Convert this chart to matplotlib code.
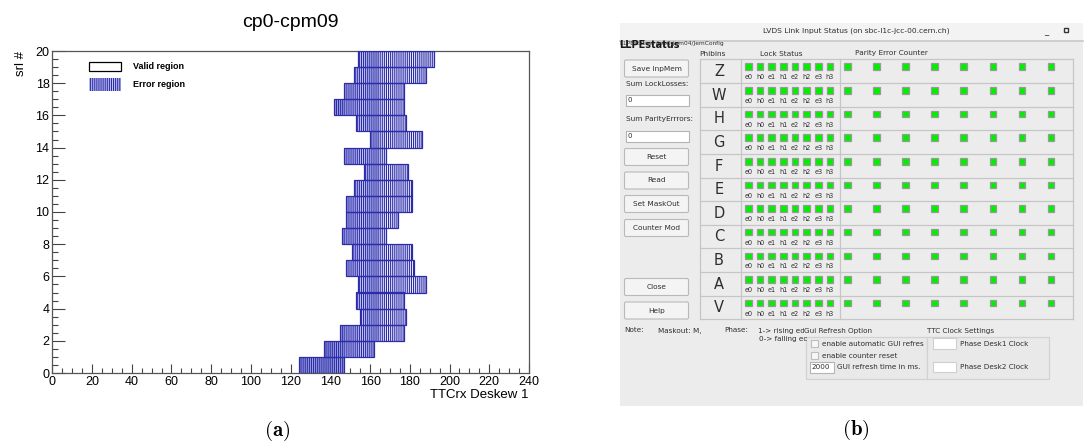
import matplotlib.pyplot as plt
import numpy as np
from matplotlib.patches import Rectangle, FancyBboxPatch
from matplotlib.ticker import MultipleLocator

plt.rcParams["hatch.linewidth"] = 0.8
plt.rcParams["mathtext.fontset"] = "cm"

# %%
# Panel (a): error region of the TTCrx deskew scan, one row per srl #
srl = np.arange(20)
err_start = np.array([124, 137, 145, 155, 153, 154, 148, 151, 146, 148,
                      148, 152, 157, 147, 160, 153, 142, 147, 152, 154])
err_end = np.array([147, 162, 177, 178, 177, 188, 182, 181, 168, 174,
                    181, 181, 179, 168, 186, 178, 177, 177, 188, 192])
solid_edge = 147     # where the denser (overlapping) shading stops
faint_edge = 164.5

# %%
# Panel (b): LVDS link input status window
phibins = ["Z", "W", "H", "G", "F", "E", "D", "C", "B", "A", "V"]
lock_labels = ["e0", "h0", "e1", "h1", "e2", "h2", "e3", "h3"]
n_parity = 8
buttons = ["Save InpMem", "Reset", "Read", "Set MaskOut", "Counter Mod", "Close", "Help"]
button_top = [60, 148.5, 172, 195.5, 219.5, 278.5, 302]

W, H = 1091, 446
fig = plt.figure(figsize=(W / 100, H / 100), dpi=100)
ov = fig.add_axes([0, 0, 1, 1])
ov.set_xlim(0, W)
ov.set_ylim(H, 0)
ov.axis("off")

blue = "#2c2cab"
ax = fig.add_axes([52.3 / W, 1 - 373 / H, (529 - 52.3) / W, (373 - 51) / H])
ax.barh(srl, err_end - err_start, left=err_start, height=1, align="edge",
        color="#f0f0fa", linewidth=0, zorder=1.5)
ax.barh(srl, np.clip(np.minimum(err_end, solid_edge) - err_start, 0, None), left=err_start,
        height=1, align="edge", color="#9fa2de", linewidth=0, zorder=2)
faint_l = np.maximum(err_start, solid_edge)
ax.barh(srl, np.clip(np.minimum(err_end, faint_edge) - faint_l, 0, None), left=faint_l,
        height=1, align="edge", color="#c6c8ee", linewidth=0, zorder=2)
ax.barh(srl, err_end - err_start, left=err_start, height=1, align="edge",
        facecolor="none", edgecolor=blue, hatch="|" * 8, linewidth=0.9, zorder=3)

ax.set_xlim(0, 240)
ax.set_ylim(0, 20)
ax.xaxis.set_major_locator(MultipleLocator(20))
ax.xaxis.set_minor_locator(MultipleLocator(5))
ax.yaxis.set_major_locator(MultipleLocator(2))
ax.yaxis.set_minor_locator(MultipleLocator(0.5))
ax.tick_params(which="both", direction="in", labelsize=9, width=0.8, color="#444444")
ax.tick_params(axis="y", which="major", length=9.5, pad=2)
ax.tick_params(axis="y", which="minor", length=4.5)
ax.tick_params(axis="x", which="major", length=6.5, pad=2)
ax.tick_params(axis="x", which="minor", length=3.5)
for lab in ax.get_xticklabels() + ax.get_yticklabels():
    lab.set_family("Liberation Sans")
for sp in ax.spines.values():
    sp.set_color("#555555")
    sp.set_linewidth(0.9)
ax.set_xlabel("TTCrx Deskew 1", loc="right", family="Liberation Sans", fontsize=9.5, labelpad=1)
ax.set_ylabel("srl #", loc="top", family="Liberation Sans", fontsize=9.5, labelpad=6)

# legend, ROOT style (placed in figure pixels)
ax.add_patch(Rectangle((89, 62), 31.7, 8.7, transform=ov.transData, facecolor="white",
                       edgecolor="black", linewidth=0.9, clip_on=False, zorder=5))
ax.add_patch(Rectangle((89, 78), 31.7, 13, transform=ov.transData, facecolor="#c6c8ee",
                       edgecolor=blue, hatch="|" * 8, linewidth=0, clip_on=False, zorder=5))
for ty, txt in ((66.5, "Valid region"), (84.5, "Error region")):
    ax.text(133, ty, txt, transform=ov.transData, fontsize=6.5, fontweight="bold",
            family="Liberation Sans", va="center", clip_on=False, zorder=10)
ov.text(290.7, 22.7, "cp0-cpm09", fontsize=14, family="Liberation Sans", ha="center", va="center")
ov.text(277, 431, r"$\mathbf{(a)}$", fontsize=15, ha="center", va="center")
ov.text(856, 430, r"$\mathbf{(b)}$", fontsize=15, ha="center", va="center")

# %%
# GUI screenshot, drawn in pixel coordinates
gui = dict(family="DejaVu Sans", color="#2e2e2e")
ov.add_patch(Rectangle((619.5, 23), 463, 383, facecolor="#ececec", edgecolor="none"))
ov.add_patch(Rectangle((619.5, 23), 463, 17, facecolor="#f3f3f3", edgecolor="none"))
ov.plot([619.5, 1082.5], [40.5, 40.5], color="#c8c8c8", lw=1.2)
ov.text(856, 30.5, "LVDS Link Input Status (on sbc-l1c-jcc-00.cern.ch)", fontsize=5.4,
        ha="center", va="center", **gui)
ov.text(1046, 32, "_", fontsize=6, ha="center", va="center", color="#333333")
ov.add_patch(Rectangle((1063.5, 28), 4, 4, facecolor="white", edgecolor="#333333", lw=1))

# the window shows its name drawn over the config path
ov.text(620, 44, "LLPEstatus: /jep0-jem04/JemConfig", fontsize=4.2, va="center", **gui)
ov.text(619.5, 45.5, "LLPEstatus", fontsize=7, fontweight="bold", va="center",
        family="DejaVu Sans", color="#1a1a1a")


def button(y0, label, x0=624.5, x1=688.5, h=17):
    ov.add_patch(FancyBboxPatch((x0, y0), x1 - x0, h, boxstyle="round,pad=0,rounding_size=1.5",
                                facecolor="#f4f4f4", edgecolor="#b9b9b9", lw=0.8))
    ov.text((x0 + x1) / 2, y0 + h / 2, label, fontsize=5.3, ha="center", va="center", **gui)


def entry(x0, y0, x1, y1, txt=""):
    ov.add_patch(Rectangle((x0, y0), x1 - x0, y1 - y0, facecolor="white",
                           edgecolor="#b4b4b4", lw=0.8))
    ov.text(x0 + 2, (y0 + y1) / 2, txt, fontsize=5, va="center", **gui)


def led(cx, cy, s=6.6):
    ov.add_patch(Rectangle((cx - s / 2, cy - s / 2), s, s, facecolor="#00f000",
                           edgecolor="#9a9a9a", lw=0.9))


for lab, top in zip(buttons, button_top):
    button(top, lab)
ov.text(625.5, 83.5, "Sum LockLosses:", fontsize=5.3, va="center", **gui)
entry(625.5, 95, 688.5, 106, "0")
ov.text(625.5, 119.5, "Sum ParityErrrors:", fontsize=5.3, va="center", **gui)
entry(625.5, 130.5, 688.5, 141.5, "0")

ov.text(712.5, 53.5, "Phibins", fontsize=5.3, ha="center", va="center", **gui)
ov.text(781, 53.5, "Lock Status", fontsize=5.3, ha="center", va="center", **gui)
ov.text(891.5, 53.5, "Parity Error Counter", fontsize=5.3, ha="center", va="center", **gui)

t_left, t_mid1, t_mid2, t_right = 700, 740.5, 840, 1072.5
t_top, row_h = 59.3, 23.64
grid = dict(color="#c6c6c6", lw=0.9)
for i, name in enumerate(phibins):
    y0 = t_top + i * row_h
    ov.plot([t_left, t_right], [y0, y0], **grid)
    ov.text(719, y0 + 12.2, name, fontsize=10.5, ha="center", va="center", **gui)
    for j, lab in enumerate(lock_labels):
        cx = 748.3 + j * 11.67
        led(cx, y0 + 7.4)
        ov.text(cx, y0 + 18, lab, fontsize=4.7, ha="center", va="center", **gui)
    for k in range(n_parity):
        led(847.3 + k * 29.1, y0 + 7.4)
y_end = t_top + len(phibins) * row_h
ov.plot([t_left, t_right], [y_end, y_end], **grid)
for xv in (t_left, t_mid1, t_mid2, t_right):
    ov.plot([xv, xv], [t_top, y_end], **grid)

# notes and option groups
small = dict(fontsize=5.2, va="center", **gui)
ov.text(624.5, 330.5, "Note:", **small)
ov.text(657.5, 330.5, "Maskout: M,", **small)
ov.text(724, 330.5, "Phase:", **small)
ov.text(757.5, 330.5, "1-> rising edg", **small)
ov.text(759, 338.8, "0-> falling ec", **small)
ov.add_patch(Rectangle((803.5, 326), 50, 9, facecolor="#ececec", edgecolor="none", zorder=3))
ov.text(804.5, 330.5, "Gui Refresh Option", zorder=4, **small)
ov.text(927, 330.5, "TTC Clock Settings", **small)
box = dict(facecolor="#e9e9e9", edgecolor="#d2d2d2", lw=0.9)
ov.add_patch(Rectangle((805.5, 337), 121, 41.5, zorder=2, **box))
ov.add_patch(Rectangle((926.5, 337), 122, 41.5, zorder=2, **box))
for cy, lab in ((343.5, "enable automatic GUI refres"), (355.5, "enable counter reset")):
    ov.add_patch(Rectangle((810.5, cy - 3.7), 7.5, 7.5, facecolor="#f7f7f7",
                           edgecolor="#bdbdbd", lw=0.8, zorder=3))
    ov.text(822, cy, lab, zorder=4, **small)
ov.add_patch(Rectangle((810, 362), 23.5, 10.5, facecolor="white", edgecolor="#b4b4b4",
                       lw=0.8, zorder=3))
ov.text(811.5, 367.3, "2000", zorder=4, **small)
ov.text(837, 367.3, "GUI refresh time in ms.", zorder=4, **small)
for cy, lab in ((343.5, "Phase Desk1 Clock"), (367, "Phase Desk2 Clock")):
    ov.add_patch(Rectangle((932.5, cy - 5.3), 23, 10.6, facecolor="white",
                           edgecolor="#cfcfcf", lw=0.8, zorder=3))
    ov.text(959.5, cy, lab, zorder=4, **small)

fig.savefig("out.png", dpi=100)
